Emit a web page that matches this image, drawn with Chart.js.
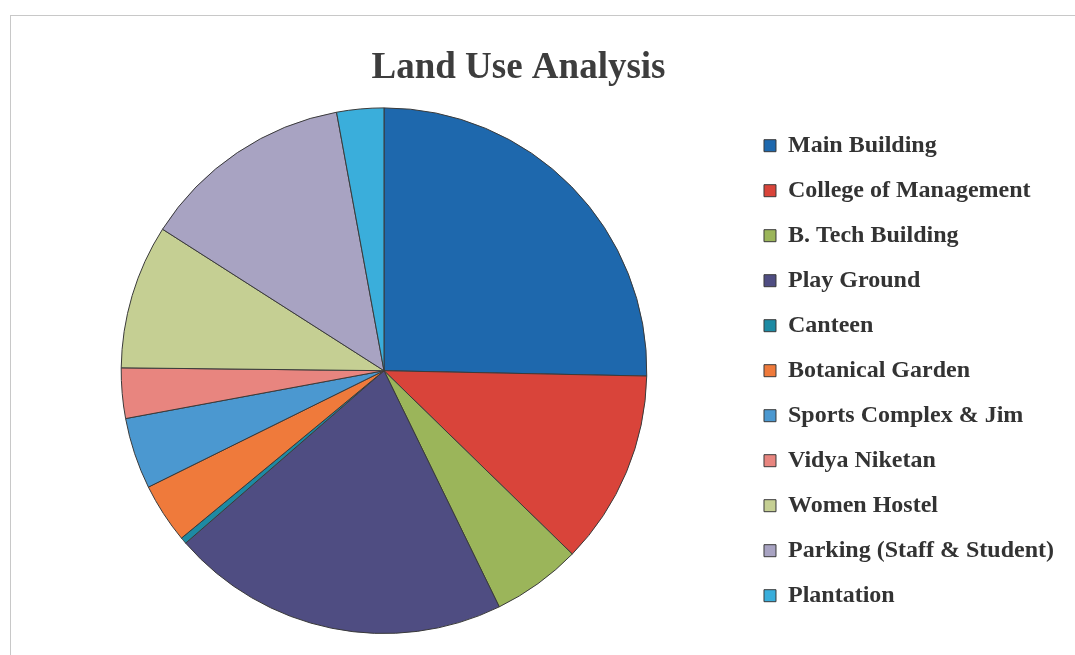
<!DOCTYPE html>
<html>
<head>
<meta charset="utf-8">
<script src="https://cdn.jsdelivr.net/npm/chart.js@4/dist/chart.umd.min.js"></script>
<style>
    html, body { margin: 0; padding: 0; background: #fff; }
    #frame {
        position: absolute; left: 10px; top: 15px; right: 0; bottom: 0;
        border-left: 1px solid #c8c8c8; border-top: 1px solid #c8c8c8;
    }
    #wrap { position: absolute; left: 0; top: 0; width: 1075px; height: 655px; }
</style>
</head>
<body>
<div id="frame"></div>
<div id="wrap"><canvas id="landChart" width="1075" height="655"></canvas></div>
<script>
const labels = [
    "Main Building", "College of Management", "B. Tech Building", "Play Ground",
    "Canteen", "Botanical Garden", "Sports Complex & Jim", "Vidya Niketan",
    "Women Hostel", "Parking (Staff & Student)", "Plantation"
];
// share of land in %
const shares = [25.4, 12.0, 5.5, 20.9, 0.4, 3.7, 4.4, 3.1, 8.9, 13.1, 2.9];
const sliceColors = [
    "#1e68ad", "#d9443a", "#9bb55a", "#4f4d82", "#1d8aa3", "#ef7a3b",
    "#4b98d0", "#e8857f", "#c5cf93", "#a8a3c2", "#3aaedb"
];

const serif = "'Liberation Serif', 'Times New Roman', serif";

// nudge title so it sits where the original had it
const titleShift = {
    id: "titleShift",
    afterLayout(chart) {
        if (chart.titleBlock) {
            chart.titleBlock.left -= 26;
            chart.titleBlock.right -= 26;
        }
    }
};

const ctx = document.getElementById("landChart").getContext("2d");
const landChart = new Chart(ctx, {
    type: "pie",
    data: {
        labels: labels,
        datasets: [{
            data: shares,
            backgroundColor: sliceColors,
            borderColor: "#3a3a3a",
            borderWidth: 1
        }]
    },
    options: {
        responsive: false,
        animation: false,
        layout: { padding: { left: 25, right: 11, top: 22, bottom: 21 } },
        plugins: {
            title: {
                display: true,
                text: "Land Use Analysis",
                color: "#3d3d3d",
                font: { family: serif, size: 37, weight: "bold" },
                padding: { top: 24, bottom: 17 }
            },
            legend: {
                position: "right",
                fullSize: false,
                labels: {
                    color: "#333",
                    font: { family: serif, size: 24, weight: "bold" },
                    boxWidth: 12,
                    boxHeight: 12,
                    padding: 21
                }
            },
            tooltip: { enabled: false }
        }
    },
    plugins: [titleShift]
});
</script>
</body>
</html>
